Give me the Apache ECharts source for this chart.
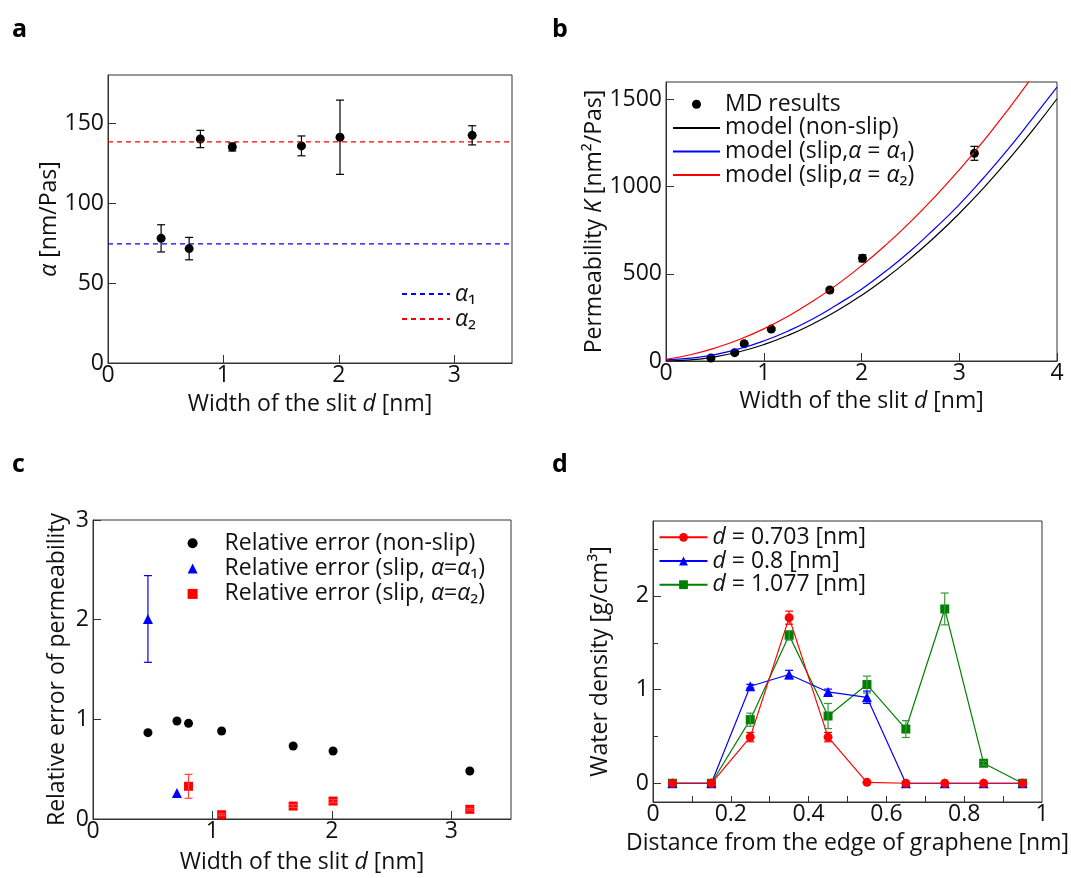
<!DOCTYPE html>
<html>
<head>
<meta charset="utf-8">
<script src="https://cdn.jsdelivr.net/npm/echarts@6.0.0/dist/echarts.min.js"></script>
<style>
  html, body { margin: 0; padding: 0; background: #fff; }
  #main { width: 1071px; height: 878px; }
</style>
</head>
<body>
<div id="main"></div>
<script>
// slit widths used in panels a, b, c
var slitD = [0.46, 0.703, 0.8, 1.077, 1.676, 2.01, 3.155];

// a: slip coefficient
var alphaVal = [77.9, 71.5, 140.0, 135.0, 135.7, 141.1, 142.3];
var alphaErr = [8.5, 7.0, 5.4, 2.5, 6.2, 23.2, 6.0];
var alpha1 = 74.4;
var alpha2 = 138.2;
var alphaLineX = [0, 3.5];

// b: permeability
var permK = [17, 48, 99, 183, 407, 589, 1191];
var permErr = [4, 5, 6, 8, 12, 20, 40];
var modelD = [0, 0.25, 0.5, 0.75, 1, 1.25, 1.5, 1.75, 2, 2.25, 2.5, 2.75, 3, 3.25, 3.5, 3.75, 4];
var modelNonSlip = [0, 6, 24, 53, 94, 147, 212, 288, 376, 476, 588, 711, 846, 993, 1152, 1322, 1504];
var modelSlip1 = [6, 16, 37, 70, 115, 172, 241, 323, 412, 516, 631, 760, 897, 1051, 1215, 1391, 1570];
var modelSlip2 = [10, 36, 74, 123, 184, 257, 342, 438, 546, 666, 798, 941, 1096, 1263, 1442, 1632];

// c: relative error
var relNonSlip = [0.866, 0.983, 0.96, 0.883, 0.732, 0.682, 0.482];
var relSlip1D = [0.46, 0.703];
var relSlip1 = [2.007, 0.26];
var relSlip1Err = [0.435, 0];
var relSlip2D = [0.8, 1.077, 1.676, 2.01, 3.155];
var relSlip2 = [0.328, 0.043, 0.13, 0.18, 0.097];
var relSlip2Err = [0.12, 0.01, 0.015, 0.015, 0.01];

// d: water density profiles
var distX = [0.05, 0.15, 0.25, 0.35, 0.45, 0.55, 0.65, 0.75, 0.85, 0.95];
var rho0703 = [0, 0, 0.493, 1.768, 0.493, 0.01, 0, 0, 0, 0];
var rho0703Err = [0, 0, 0.05, 0.07, 0.05, 0, 0, 0, 0, 0];
var rho08 = [0, 0, 1.036, 1.161, 0.975, 0.918, 0, 0, 0, 0];
var rho08Err = [0, 0, 0.02, 0.045, 0.03, 0.066, 0, 0, 0, 0];
var rho1077 = [0, 0, 0.679, 1.579, 0.718, 1.054, 0.579, 1.861, 0.214, 0];
var rho1077Err = [0, 0, 0.07, 0.05, 0.134, 0.09, 0.09, 0.17, 0.02, 0];

var FONT = '"Open Sans", "DejaVu Sans", sans-serif';
var FS = 23;
var INK = '#111';
var FRAME = '#333';

function pairs(xs, ys) {
  return xs.map(function (x, i) { return [x, ys[i]]; });
}
function bars(xs, ys, es) {
  var out = [];
  for (var i = 0; i < xs.length; i++) {
    if (es[i] > 0) out.push([xs[i], ys[i] - es[i], ys[i] + es[i]]);
  }
  return out;
}
function errSeries(gi, data, color, cap) {
  return {
    type: 'custom', xAxisIndex: gi, yAxisIndex: gi, data: data, z: 5,
    encode: { x: 0, y: [1, 2] }, silent: true,
    renderItem: function (params, api) {
      var p1 = api.coord([api.value(0), api.value(1)]);
      var p2 = api.coord([api.value(0), api.value(2)]);
      var s = { stroke: color, lineWidth: 1.2 };
      return { type: 'group', children: [
        { type: 'line', shape: { x1: p1[0], y1: p1[1], x2: p2[0], y2: p2[1] }, style: s },
        { type: 'line', shape: { x1: p1[0] - cap, y1: p1[1], x2: p1[0] + cap, y2: p1[1] }, style: s },
        { type: 'line', shape: { x1: p2[0] - cap, y1: p2[1], x2: p2[0] + cap, y2: p2[1] }, style: s }
      ] };
    }
  };
}

var rich = {
  i: { fontStyle: 'italic', fontFamily: FONT, fontSize: FS, color: INK }
};
function plain(v) { return String(v); }

function xAx(gi, min, max, labels, name, gap) {
  return {
    type: 'value', gridIndex: gi, min: min, max: max,
    name: name, nameLocation: 'middle', nameGap: gap,
    nameTextStyle: { fontSize: FS, fontFamily: FONT, color: INK, rich: rich },
    axisLine: { show: true, onZero: false, lineStyle: { color: FRAME, width: 1 } },
    axisTick: { show: true, inside: true, length: 8, customValues: labels, lineStyle: { color: FRAME } },
    axisLabel: { fontSize: FS, fontFamily: FONT, color: INK, margin: 1, customValues: labels, formatter: plain },
    splitLine: { show: false }
  };
}
function yAx(gi, min, max, labels, name, gap) {
  return {
    type: 'value', gridIndex: gi, min: min, max: max,
    name: name, nameLocation: 'middle', nameGap: gap,
    nameTextStyle: { fontSize: FS, fontFamily: FONT, color: INK, rich: rich },
    axisLine: { show: true, onZero: false, lineStyle: { color: FRAME, width: 1 } },
    axisTick: { show: true, inside: true, length: 8, customValues: labels, lineStyle: { color: FRAME } },
    axisLabel: { fontSize: FS, fontFamily: FONT, color: INK, margin: 4, customValues: labels, formatter: plain },
    splitLine: { show: false }
  };
}

function legendFmt(name) {
  return name.replace(/α/g, '{i|α}').replace(/^d /, '{i|d} ');
}
// lineOnly: hide the symbol in the icon of line series drawn without markers
function legend(names, lineOnly, left, top, w, h, gap, pad) {
  return {
    data: names.map(function (n) {
      return lineOnly.indexOf(n) >= 0 ? { name: n, itemStyle: { opacity: 0 } } : { name: n };
    }),
    left: left, top: top, orient: 'vertical', padding: 0,
    itemWidth: w, itemHeight: h, itemGap: gap, selectedMode: false,
    formatter: legendFmt,
    textStyle: { fontSize: FS, fontFamily: FONT, color: INK, lineHeight: 23, padding: [0, 0, 0, pad || 0], rich: rich }
  };
}

var gridStyle = { show: true, borderColor: FRAME, borderWidth: 1, backgroundColor: 'transparent' };

var namesA = ['α₁', 'α₂'];
var namesB = ['MD results', 'model (non-slip)', 'model (slip,α = α₁)', 'model (slip,α = α₂)'];
var namesC = ['Relative error (non-slip)', 'Relative error (slip, α=α₁)', 'Relative error (slip, α=α₂)'];
var namesD = ['d = 0.703 [nm]', 'd = 0.8 [nm]', 'd = 1.077 [nm]'];

var chart = echarts.init(document.getElementById('main'));
var option = {
  animation: false,
  textStyle: { fontFamily: FONT },
  grid: [
    Object.assign({ left: 108, top: 75, right: 559, bottom: 515 }, gridStyle),
    Object.assign({ left: 666, top: 82, right: 14, bottom: 517 }, gridStyle),
    Object.assign({ left: 93, top: 520, right: 560, bottom: 59 }, gridStyle),
    Object.assign({ left: 653, top: 521, right: 25, bottom: 76 }, gridStyle)
  ],
  xAxis: [
    xAx(0, 0, 3.5, [0, 1, 2, 3], 'Width of the slit {i|d} [nm]', 30),
    xAx(1, 0, 4, [0, 1, 2, 3, 4], 'Width of the slit {i|d} [nm]', 29),
    xAx(2, 0, 3.5, [0, 1, 2, 3], 'Width of the slit {i|d} [nm]', 32),
    Object.assign(xAx(3, 0, 1, [0, 0.2, 0.4, 0.6, 0.8, 1], 'Distance from the edge of graphene [nm]', 30),
      { axisTick: { show: true, inside: true, length: 6, customValues: [0.1, 0.2, 0.3, 0.4, 0.5, 0.6, 0.7, 0.8, 0.9], lineStyle: { color: FRAME } } })
  ],
  yAxis: [
    yAx(0, 0, 180, [0, 50, 100, 150], '{i|α} [nm/Pas]', 42),
    yAx(1, 0, 1600, [0, 500, 1000, 1500], 'Permeability {i|K} [nm²/Pas]', 53),
    yAx(2, 0, 3, [0, 1, 2, 3], 'Relative error of permeability', 24),
    yAx(3, -0.2, 2.8, [0, 1, 2], 'Water density [g/cm³]', 41),
    // minor ticks for panel d
    {
      type: 'value', gridIndex: 3, min: -0.2, max: 2.8, position: 'left',
      axisLine: { show: false },
      axisTick: { show: true, inside: true, length: 5, customValues: [0.5, 1.5, 2.5], lineStyle: { color: FRAME } },
      axisLabel: { show: false }, splitLine: { show: false }
    }
  ],
  legend: [
    legend(namesA, namesA, 401, 282.5, 48, 10, 2),
    legend(namesB, namesB.slice(1), 672, 92.8, 47, 9, 0.6),
    legend(namesC, [], 187.6, 531.8, 10, 10, 2.3, 22),
    legend(namesD, [], 658.5, 525.8, 48, 11, 0.7)
  ],
  graphic: [
    { type: 'text', left: 12, top: 17, style: { text: 'a', font: 'bold 25px ' + FONT, fill: '#000' } },
    { type: 'text', left: 552, top: 17, style: { text: 'b', font: 'bold 25px ' + FONT, fill: '#000' } },
    { type: 'text', left: 12, top: 452, style: { text: 'c', font: 'bold 25px ' + FONT, fill: '#000' } },
    { type: 'text', left: 552, top: 452, style: { text: 'd', font: 'bold 25px ' + FONT, fill: '#000' } }
  ],
  series: [
    // panel a
    { name: 'α₁', type: 'line', xAxisIndex: 0, yAxisIndex: 0, symbol: 'none',
      data: pairs(alphaLineX, [alpha1, alpha1]),
      lineStyle: { color: '#0000ff', width: 1.2, type: [5, 4] }, itemStyle: { color: '#0000ff' } },
    { name: 'α₂', type: 'line', xAxisIndex: 0, yAxisIndex: 0, symbol: 'none',
      data: pairs(alphaLineX, [alpha2, alpha2]),
      lineStyle: { color: '#ff0000', width: 1.2, type: [5, 4] }, itemStyle: { color: '#ff0000' } },
    errSeries(0, bars(slitD, alphaVal, alphaErr), '#000', 4),
    { name: 'alpha MD', type: 'scatter', xAxisIndex: 0, yAxisIndex: 0, symbol: 'circle', symbolSize: 9,
      data: pairs(slitD, alphaVal), itemStyle: { color: '#000', opacity: 1 } },

    // panel b
    { name: 'model (non-slip)', type: 'line', xAxisIndex: 1, yAxisIndex: 1, symbol: 'none', smooth: true,
      data: pairs(modelD, modelNonSlip), lineStyle: { color: '#000', width: 1.2 }, itemStyle: { color: '#000' } },
    { name: 'model (slip,α = α₁)', type: 'line', xAxisIndex: 1, yAxisIndex: 1, symbol: 'none', smooth: true,
      data: pairs(modelD, modelSlip1), lineStyle: { color: '#0000ff', width: 1.2 }, itemStyle: { color: '#0000ff' } },
    { name: 'model (slip,α = α₂)', type: 'line', xAxisIndex: 1, yAxisIndex: 1, symbol: 'none', smooth: true,
      data: pairs(modelD.slice(0, modelSlip2.length), modelSlip2), lineStyle: { color: '#ff0000', width: 1.2 }, itemStyle: { color: '#ff0000' } },
    errSeries(1, bars(slitD, permK, permErr), '#000', 4),
    { name: 'MD results', type: 'scatter', xAxisIndex: 1, yAxisIndex: 1, symbol: 'circle', symbolSize: 9,
      data: pairs(slitD, permK), itemStyle: { color: '#000', opacity: 1 } },

    // panel c
    errSeries(2, bars(relSlip1D, relSlip1, relSlip1Err), '#0000ff', 4),
    errSeries(2, bars(relSlip2D, relSlip2, relSlip2Err), '#ff4040', 4),
    { name: 'Relative error (non-slip)', type: 'scatter', xAxisIndex: 2, yAxisIndex: 2, symbol: 'circle', symbolSize: 9,
      data: pairs(slitD, relNonSlip), itemStyle: { color: '#000', opacity: 1 } },
    { name: 'Relative error (slip, α=α₁)', type: 'scatter', xAxisIndex: 2, yAxisIndex: 2, symbol: 'triangle', symbolSize: 10,
      data: pairs(relSlip1D, relSlip1), itemStyle: { color: '#0000ff', opacity: 1 } },
    { name: 'Relative error (slip, α=α₂)', type: 'scatter', xAxisIndex: 2, yAxisIndex: 2, symbol: 'rect', symbolSize: 9,
      data: pairs(relSlip2D, relSlip2), itemStyle: { color: '#ff0000', opacity: 1 } },

    // panel d
    { name: 'd = 1.077 [nm]', type: 'line', xAxisIndex: 3, yAxisIndex: 3, symbol: 'rect', symbolSize: 9,
      data: pairs(distX, rho1077), lineStyle: { color: '#008000', width: 1.2 }, itemStyle: { color: '#008000' } },
    errSeries(3, bars(distX, rho1077, rho1077Err), '#3c963c', 4),
    { name: 'd = 0.8 [nm]', type: 'line', xAxisIndex: 3, yAxisIndex: 3, symbol: 'triangle', symbolSize: 10,
      data: pairs(distX, rho08), lineStyle: { color: '#0000ff', width: 1.2 }, itemStyle: { color: '#0000ff' } },
    errSeries(3, bars(distX, rho08, rho08Err), '#0000ff', 4),
    { name: 'd = 0.703 [nm]', type: 'line', xAxisIndex: 3, yAxisIndex: 3, symbol: 'circle', symbolSize: 9,
      data: pairs(distX, rho0703), lineStyle: { color: '#ff0000', width: 1.2 }, itemStyle: { color: '#ff0000' } },
    errSeries(3, bars(distX, rho0703, rho0703Err), '#ff0000', 4)
  ]
};
chart.setOption(option);
window.addEventListener('resize', function () { chart.resize(); });
</script>
</body>
</html>
